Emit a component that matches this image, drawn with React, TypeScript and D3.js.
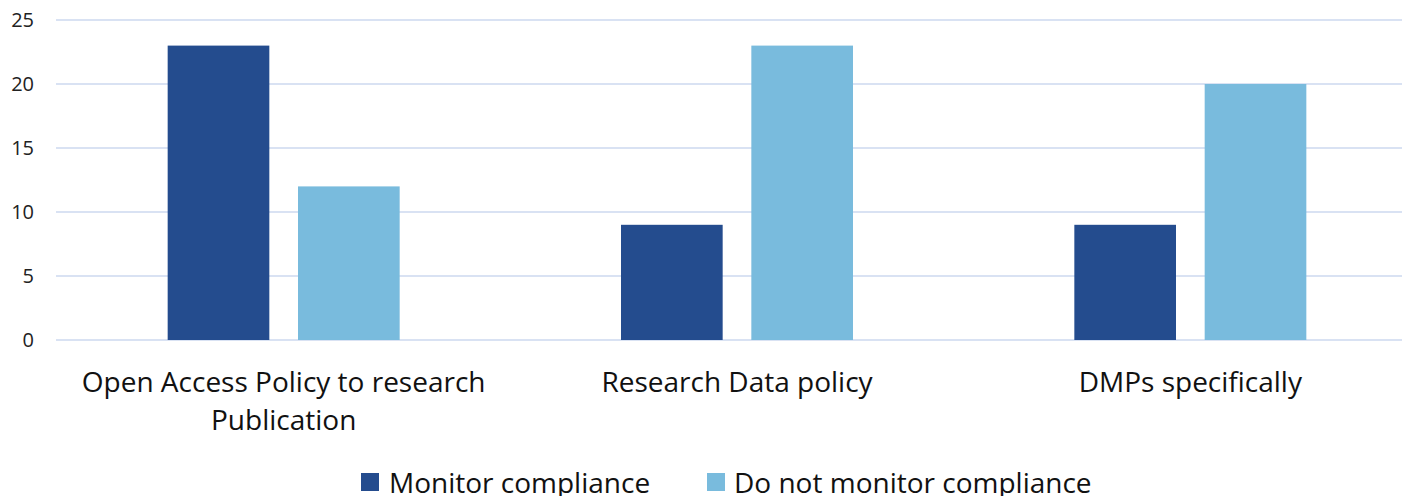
import React from "react";
import * as d3 from "d3";

const categories = [
  ["Open Access Policy to research", "Publication"],
  ["Research Data policy"],
  ["DMPs specifically"],
];
const seriesNames = ["Monitor compliance", "Do not monitor compliance"];
const monitor = [23, 9, 9];
const notMonitor = [12, 23, 20];
const yTicks = [0, 5, 10, 15, 20, 25];
const colors = ["#244C8E", "#79BBDD"];

const width = 1402;
const height = 496;
const font = "'Open Sans', Lato, sans-serif";

const App = () => {
  const keys = categories.map((c) => c.join(" "));
  const x0 = d3.scaleBand().domain(keys).range([57, 1417]).padding(0);
  const bw = x0.bandwidth();
  const x1 = d3
    .scaleBand()
    .domain(seriesNames)
    .range([bw / 2 - 116, bw / 2 + 116])
    .paddingInner(0.22);
  const y = d3.scaleLinear().domain([0, 25]).range([340, 20]);
  const values = [monitor, notMonitor];

  return (
    <svg width={width} height={height} style={{ position: "absolute", left: 0, top: 0 }}>
      <rect width={width} height={height} fill="#fff" />
      {yTicks.map((t) => (
        <g key={t}>
          <line x1={56} x2={width} y1={y(t)} y2={y(t)} stroke="#D9E2F3" strokeWidth={2} />
          <text x={34} y={y(t)} dy="0.35em" textAnchor="end" fontFamily={font} fontSize={20} fill="#222">
            {t}
          </text>
        </g>
      ))}
      {keys.map((k, i) => (
        <g key={k} transform={`translate(${x0(k)},0)`}>
          {seriesNames.map((s, j) => (
            <rect
              key={s}
              x={x1(s)}
              width={x1.bandwidth()}
              y={y(values[j][i])}
              height={y(0) - y(values[j][i])}
              fill={colors[j]}
            />
          ))}
          {categories[i].map((line, li) => (
            <text
              key={li}
              x={bw / 2}
              y={392 + li * 38}
              textAnchor="middle"
              fontFamily={font}
              fontSize={28}
              fill="#111"
            >
              {line}
            </text>
          ))}
        </g>
      ))}
      {[
        { x: 361, tx: 389 },
        { x: 707, tx: 734 },
      ].map((p, j) => (
        <g key={j}>
          <rect x={p.x} y={473} width={18} height={18} fill={colors[j]} />
          <text x={p.tx} y={493} fontFamily={font} fontSize={28} fill="#111">
            {seriesNames[j]}
          </text>
        </g>
      ))}
    </svg>
  );
};

export default App;
